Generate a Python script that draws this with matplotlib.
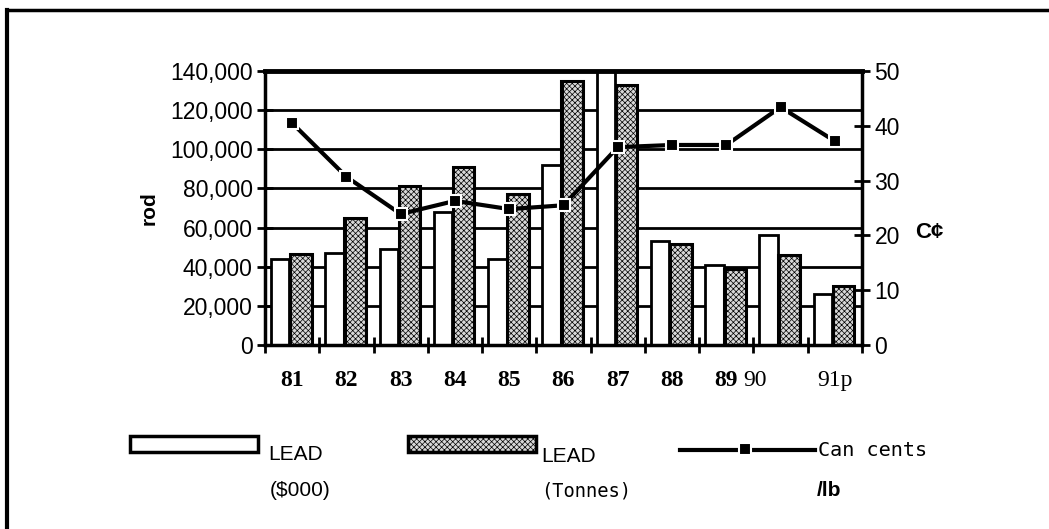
# Lead chart: value ($000) and tonnes as bars, price (Can cents/lb) as line.

import numpy as np
import matplotlib
matplotlib.use('Agg')
import matplotlib.pyplot as plt
from matplotlib.patches import Rectangle
from matplotlib.lines import Line2D

years = ['81', '82', '83', '84', '85', '86', '87', '88', '89', '90', '91p']
leadValue = [44000, 47000, 49000, 68000, 44000, 92000, 150000, 53000, 41000, 56000, 26000]
leadTonnes = [46500, 65000, 81000, 91000, 77000, 135000, 133000, 51500, 39000, 46000, 30000]
centsLb = [40.5, 30.7, 23.9, 26.3, 24.8, 25.5, 36.1, 36.5, 36.5, 43.4, 37.2]
boldYears = ['81', '82', '83', '84', '85', '86', '87', '88', '89']

plt.rcParams['hatch.linewidth'] = 0.5
W, H = 1049, 529
f = plt.figure(figsize=(W/100, H/100), dpi=100)

# frame lines (top and left only)
f.add_artist(Line2D([7/W, 1], [1-10/H, 1-10/H], color='black', lw=2.5, transform=f.transFigure))
f.add_artist(Line2D([7/W, 7/W], [0, 1-10/H], color='black', lw=3, transform=f.transFigure))

ax = f.add_axes([265/W, 1-345/H, (862-265)/W, (345-71)/H])
x = np.arange(len(years))

# horizontal grid
for g in range(20000, 140000, 20000):
    ax.axhline(g, color='black', lw=2, zorder=1)

ax.bar(x-0.22, leadValue, 0.34, color='white', edgecolor='black', lw=2, zorder=2)
ax.bar(x+0.16, leadTonnes, 0.40, color='#d8d8d8', edgecolor='black', lw=2.2,
       hatch='xxxxxx', zorder=2)
# heavy left edge of the shaded bars
ax.bar(x-0.02, leadTonnes, 0.05, color='black', lw=0, zorder=3)

ax.set_xlim(-0.5, len(years)-0.5)
ax.set_ylim(0, 140000)
ax.yaxis.set_ticks(np.arange(0, 140001, 20000))
ax.set_yticklabels(['{:,}'.format(v) for v in range(0, 140001, 20000)],
                   family='Liberation Sans', fontsize=16.5)
ax.tick_params(axis='y', direction='inout', length=12, width=2, pad=3)

# year labels, 90 sits left of its group in the original
ax.set_xticks(np.arange(-0.5, len(years)))
ax.set_xticklabels([])
ax.tick_params(axis='x', direction='inout', length=12, width=2)
for i, yr in enumerate(years):
    xi = i - 0.48 if yr == '90' else i
    ax.text(xi, -0.13, yr, transform=ax.get_xaxis_transform(), ha='center', va='center',
            family='Liberation Serif', fontsize=17,
            fontweight='bold' if yr in boldYears else 'normal')

for s in ['left', 'right', 'bottom']:
    ax.spines[s].set_linewidth(2.5)
ax.spines['top'].set_linewidth(3.5)

ax.set_ylabel('rod', fontweight='bold', family='Liberation Sans', fontsize=15, labelpad=8)

# price line on right axis
ax2 = ax.twinx()
ax2.plot(x, centsLb, color='black', lw=3, marker='s', markersize=8,
         markerfacecolor='black', markeredgecolor='white', markeredgewidth=1.5,
         zorder=5)
ax2.set_ylim(0, 50)
ax2.yaxis.set_ticks(np.arange(0, 51, 10))
ax2.set_yticklabels([str(v) for v in range(0, 51, 10)], family='Liberation Sans', fontsize=16.5)
ax2.tick_params(axis='y', direction='inout', length=12, width=2, pad=3)
for s in ax2.spines.values():
    s.set_visible(False)
f.text(915/W, 1-232/H, 'C¢', fontweight='bold', family='Liberation Sans', fontsize=16,
       ha='left', va='center')

# legend, drawn by hand
f.add_artist(Rectangle((130/W, 1-452/H), 128/W, 16/H, facecolor='white',
                       edgecolor='black', lw=2.5, transform=f.transFigure))
f.add_artist(Rectangle((408/W, 1-452/H), 128/W, 16/H, facecolor='#d8d8d8',
                       edgecolor='black', lw=2.5, hatch='xxxxxx', transform=f.transFigure))
f.add_artist(Line2D([680/W, 815/W], [1-450/H, 1-450/H], color='black', lw=3,
                    transform=f.transFigure))
f.add_artist(Line2D([745/W], [1-449/H], color='black', marker='s', markersize=8,
                    markeredgecolor='white', markeredgewidth=1.5, transform=f.transFigure))

txt = dict(family='Liberation Sans', fontsize=15, va='center', ha='left')
f.text(268/W, 1-455/H, 'LEAD', **txt)
f.text(270/W, 1-491/H, '($000)', **txt)
f.text(541/W, 1-456/H, 'LEAD', **txt)
f.text(541/W, 1-491/H, '(Tonnes)', family='DejaVu Sans Mono', fontsize=13.5, va='center', ha='left')
f.text(818/W, 1-451/H, 'Can cents', family='DejaVu Sans Mono', fontsize=14.5, va='center', ha='left')
f.text(817/W, 1-491/H, '/lb', family='Liberation Sans', fontsize=15, fontweight='bold',
       va='center', ha='left')

plt.savefig('out.png', dpi=100)
